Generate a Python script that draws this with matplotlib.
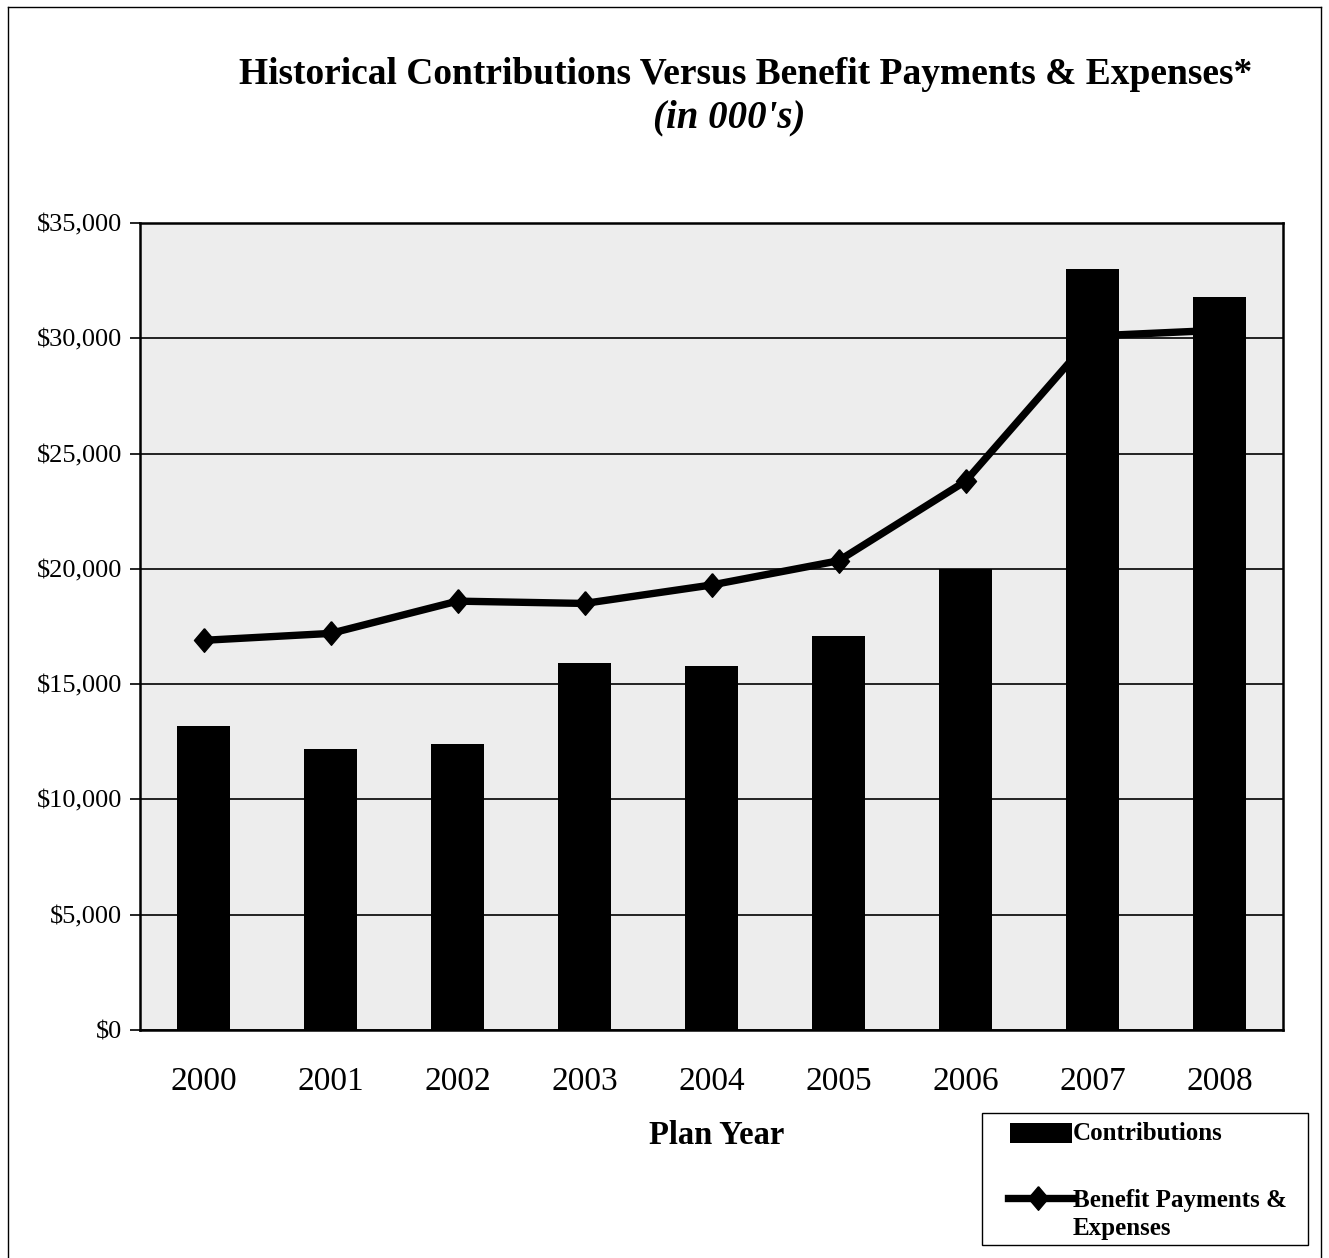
import matplotlib
matplotlib.use("Agg")
import matplotlib.pyplot as plt
from matplotlib.lines import Line2D
from matplotlib.patches import Rectangle
from matplotlib.ticker import FuncFormatter, MultipleLocator

years = ["2000", "2001", "2002", "2003", "2004", "2005", "2006", "2007", "2008"]
contributions = [13200, 12200, 12400, 15900, 15800, 17100, 20000, 33000, 31800]
benefits = [16900, 17200, 18600, 18500, 19300, 20350, 23800, 30100, 30350]
series_labels = ["Contributions", "Benefit Payments &\nExpenses"]

W, H = 1329, 1258
fig = plt.figure(figsize=(W / 100, H / 100), dpi=100)
plt.rcParams['font.family'] = ['Liberation Serif', 'DejaVu Serif']

DIAMOND = [(0, 1), (0.85, 0), (0, -1), (-0.85, 0), (0, 1)]
LW = 5.3
MS = 17


def fx(px):
    return px / W


def fy(py):
    return 1 - py / H


# outer frame (left, top, right)
for xs, ys in [([8, 8], [H, 7]), ([8, 1321], [7, 7]), ([1321, 1321], [7, H])]:
    fig.add_artist(Line2D([fx(v) for v in xs], [fy(v) for v in ys], color='black', lw=1.0,
                          transform=fig.transFigure))

ax = fig.add_axes([fx(140), fy(1030), (1283 - 140) / W, (1030 - 223) / H])
ax.set_facecolor('#ededed')

x = list(range(len(years)))
ax.plot(x, benefits, color='black', lw=LW, marker=DIAMOND, markersize=MS, zorder=2)
ax.bar(x, contributions, width=0.41, color='black', zorder=3)

ax.set_xlim(-0.5, len(years) - 0.5)
ax.set_ylim(0, 35000)
ax.yaxis.set_major_locator(MultipleLocator(5000))
ax.yaxis.set_major_formatter(FuncFormatter(lambda v, p: f"${v:,.0f}"))
ax.grid(axis='y', color='black', lw=1.2, zorder=1)
ax.set_axisbelow(True)
ax.set_xticks(x)
ax.set_xticklabels(years, fontsize=24)
ax.tick_params(axis='x', length=0, pad=26)
ax.tick_params(axis='y', length=7, width=1.2, labelsize=19, pad=6)
for s in ax.spines.values():
    s.set_linewidth(1.8)
    s.set_color('black')

fig.text(fx(717), fy(1135), 'Plan Year', ha='center', va='center',
         fontsize=23.5, fontweight='bold')

fig.text(fx(746), fy(75), "Historical Contributions Versus Benefit Payments & Expenses*",
         ha='center', va='center', fontsize=27, fontweight='bold')
fig.text(fx(729), fy(118), "(in 000's)", ha='center', va='center',
         fontsize=28, fontweight='bold', fontstyle='italic')

# legend drawn by hand to match the original layout
fig.add_artist(Rectangle((fx(982), fy(1245)), (1308 - 982) / W, (1245 - 1113) / H,
                         transform=fig.transFigure, facecolor='white', edgecolor='black', lw=1.0))
fig.add_artist(Rectangle((fx(1010), fy(1143)), (1072 - 1010) / W, (1143 - 1123) / H,
                         transform=fig.transFigure, facecolor='black', edgecolor='black', lw=0))
fig.text(fx(1073), fy(1134), series_labels[0], ha='left', va='center',
         fontsize=18, fontweight='bold')
fig.add_artist(Line2D([fx(1008), fx(1072)], [fy(1198), fy(1198)], color='black', lw=LW,
                      transform=fig.transFigure))
fig.add_artist(Line2D([fx(1038)], [fy(1198)], color='black', marker=DIAMOND, markersize=MS,
                      transform=fig.transFigure))
first, second = series_labels[1].split("\n")
fig.text(fx(1073), fy(1200), first, ha='left', va='center', fontsize=18, fontweight='bold')
fig.text(fx(1073), fy(1228), second, ha='left', va='center', fontsize=18, fontweight='bold')

fig.savefig('out.png', dpi=100)
